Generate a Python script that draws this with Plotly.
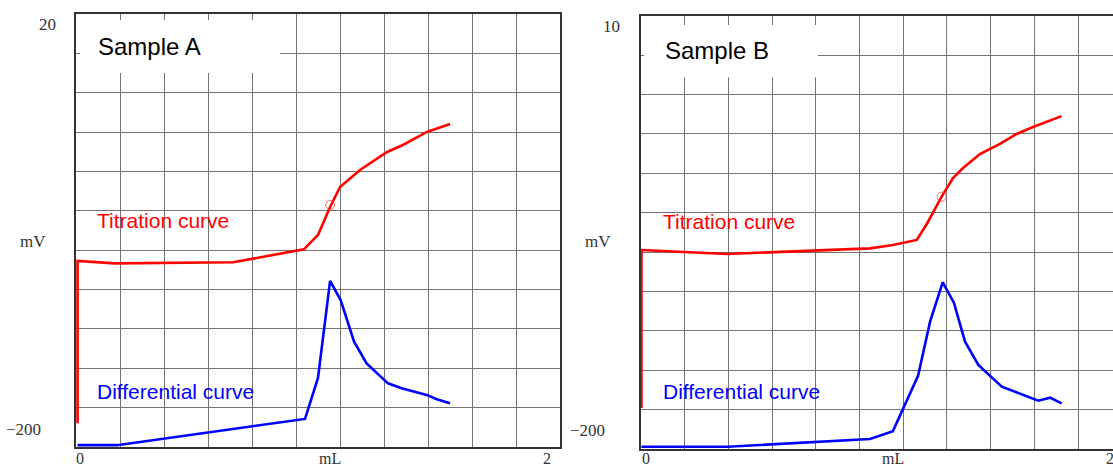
import plotly.graph_objects as go

W, H = 1113, 466

# ---------------- data ----------------
# Sample A  (x in mL, y in mV)
a_titr_ml = [0.007, 0.007, 0.177, 0.714, 1.036, 1.077, 1.100, 1.155, 1.200, 1.291, 1.414, 1.486, 1.595, 1.700]
a_titr_mv = [-197.0, -108.6, -109.9, -109.3, -102.3, -97.2, -94.4, -79.2, -68.3, -59.0, -49.2, -45.4, -38.3, -34.0]
a_diff_ml = [0.007, 0.186, 1.041, 1.100, 1.155, 1.203, 1.264, 1.321, 1.418, 1.480, 1.594, 1.640, 1.700]
a_diff_mv = [-209.0, -209.0, -194.7, -172.4, -119.5, -129.9, -152.6, -164.4, -175.3, -178.0, -181.6, -184.0, -186.2]
a_ep_ml = [1.155]
a_ep_mv = [-78.1]

# Sample B
b_titr_ml = [0.002, 0.002, 0.394, 1.048, 1.153, 1.262, 1.308, 1.346, 1.376, 1.428, 1.474, 1.551, 1.643, 1.719, 1.794, 1.925]
b_titr_mv = [-188.7, -106.5, -108.6, -105.7, -103.9, -101.3, -93.0, -84.7, -78.8, -69.1, -63.9, -56.6, -51.4, -46.2, -42.6, -36.9]
b_diff_ml = [0.002, 0.398, 1.048, 1.153, 1.268, 1.323, 1.381, 1.432, 1.483, 1.544, 1.651, 1.818, 1.872, 1.925]
b_diff_mv = [-208.8, -208.8, -204.8, -200.7, -171.9, -143.8, -123.3, -133.9, -154.2, -166.3, -177.6, -184.9, -183.3, -186.3]
b_ep_ml = [1.376]
b_ep_mv = [-78.8]

titles = ["Sample A", "Sample B"]
curve_labels = ["Titration curve", "Differential curve"]
x_tick_text = ["0", "mL", "2"]
a_y_tick_text = ["20", "\u2212200"]
b_y_tick_text = ["10", "\u2212200"]
y_unit = "mV"

# ---------------- style ----------------
RED = "#ff0000"
BLUE = "#0000ff"
GRID = "#737373"
AXIS = "#333333"
SERIF = "Liberation Serif, Times New Roman, serif"
SANS = "Liberation Sans, Arial, sans-serif"


def px(x):
    return x / W


def py(y):
    return 1 - y / H


fig = go.Figure()

# Sample A traces
fig.add_trace(go.Scatter(x=a_titr_ml, y=a_titr_mv, mode="lines",
                         line=dict(color=RED, width=2.6), xaxis="x", yaxis="y", showlegend=False))
fig.add_trace(go.Scatter(x=a_diff_ml, y=a_diff_mv, mode="lines",
                         line=dict(color=BLUE, width=2.6), xaxis="x", yaxis="y", showlegend=False))
fig.add_trace(go.Scatter(x=a_ep_ml, y=a_ep_mv, mode="markers",
                         marker=dict(symbol="circle-open", size=9, color="rgba(255,60,60,0.75)",
                                     line=dict(width=1)),
                         xaxis="x", yaxis="y", showlegend=False))
# Sample B traces
fig.add_trace(go.Scatter(x=b_titr_ml, y=b_titr_mv, mode="lines",
                         line=dict(color=RED, width=2.6), xaxis="x2", yaxis="y2", showlegend=False))
fig.add_trace(go.Scatter(x=b_diff_ml, y=b_diff_mv, mode="lines",
                         line=dict(color=BLUE, width=2.6), xaxis="x2", yaxis="y2", showlegend=False))
fig.add_trace(go.Scatter(x=b_ep_ml, y=b_ep_mv, mode="markers",
                         marker=dict(symbol="circle-open", size=9, color="rgba(255,60,60,0.75)",
                                     line=dict(width=1)),
                         xaxis="x2", yaxis="y2", showlegend=False))

common_axis = dict(showgrid=True, gridcolor=GRID, gridwidth=1.1, zeroline=False,
                   showticklabels=False, ticks="", showline=True, linecolor=AXIS,
                   linewidth=1.7, fixedrange=True)

fig.update_layout(
    width=W, height=H,
    margin=dict(l=0, r=0, t=0, b=0),
    paper_bgcolor="white", plot_bgcolor="white",
    xaxis=dict(domain=[px(76), px(560)], range=[0, 2.2], tick0=0, dtick=0.2,
               mirror=True, anchor="y", **common_axis),
    yaxis=dict(domain=[py(447), py(14)], range=[-210, 26], tick0=-210, dtick=236 / 11,
               mirror=True, anchor="x", **common_axis),
    xaxis2=dict(domain=[px(641), 1.0], range=[0, 472 / 218.5], tick0=0, dtick=0.2,
                mirror=True, anchor="y2", **common_axis),
    yaxis2=dict(domain=[py(449), py(15.7)], range=[-210, 15.3], tick0=-210, dtick=225.3 / 11,
                mirror=False, anchor="x2", **common_axis),
)

# white boxes behind the sample titles (covering grid lines)
fig.add_shape(type="rect", xref="x domain", yref="y domain", layer="above",
              x0=(80 - 76) / 484, x1=(280 - 76) / 484,
              y0=1 - (73 - 14) / 433, y1=1 - (20 - 14) / 433,
              fillcolor="white", line=dict(width=0))
fig.add_shape(type="rect", xref="x2 domain", yref="y2 domain", layer="above",
              x0=(644 - 641) / 472, x1=(818 - 641) / 472,
              y0=1 - (77.3 - 15.7) / 433.3, y1=1 - (25 - 15.7) / 433.3,
              fillcolor="white", line=dict(width=0))

ann = []


def text(x, y, s, font, color, size, xanchor="left", pad=1):
    ann.append(dict(x=px(x), y=py(y), xref="paper", yref="paper", text=s, showarrow=False,
                    xanchor=xanchor, yanchor="middle", borderpad=pad,
                    font=dict(family=font, size=size, color=color)))


# titles and curve labels
text(96, 46.5, titles[0], SANS, "black", 24)
text(663, 50.5, titles[1], SANS, "black", 24)
text(95, 221, curve_labels[0], SANS, RED, 21)
text(95, 391.5, curve_labels[1], SANS, BLUE, 21)
text(661, 221.5, curve_labels[0], SANS, RED, 21)
text(661, 391.5, curve_labels[1], SANS, BLUE, 21)

# axis labels (placed as in the picture)
for xc, s in zip([80, 330, 547], x_tick_text):
    text(xc, 458, s, SERIF, AXIS, 16, xanchor="center", pad=0)
for xc, s in zip([646, 893, 1110], x_tick_text):
    text(xc, 458, s, SERIF, AXIS, 16, xanchor="center", pad=0)
text(58, 25, a_y_tick_text[0], SERIF, AXIS, 17, xanchor="right")
text(43, 429, a_y_tick_text[1], SERIF, AXIS, 17, xanchor="right")
text(32.5, 241, y_unit, SERIF, AXIS, 17, xanchor="center")
text(622, 26, b_y_tick_text[0], SERIF, AXIS, 17, xanchor="right")
text(607, 430, b_y_tick_text[1], SERIF, AXIS, 17, xanchor="right")
text(597.5, 241, y_unit, SERIF, AXIS, 17, xanchor="center")

fig.update_layout(annotations=ann)

fig.write_html(
    "out.html",
    config={"displayModeBar": False},
    post_script="document.body.style.margin='0px';document.body.style.padding='0px';"
                "document.body.style.overflow='hidden';",
)
